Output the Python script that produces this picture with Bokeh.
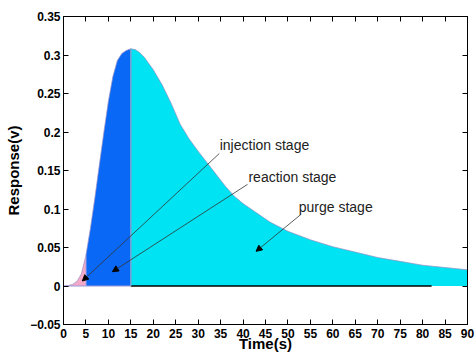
from bokeh.plotting import figure
from bokeh.models import (FixedTicker, LinearAxis, Arrow, NormalHead, Label)
from bokeh.embed import file_html
from bokeh.resources import INLINE

# ---- data ----
time_s = [0, 1, 2, 3, 4, 5, 6, 7, 8, 9, 10, 11, 12, 13, 14, 15,
          16, 17, 18, 20, 22, 24, 26, 28, 30, 32, 34, 36, 38, 40,
          43, 46, 50, 55, 60, 65, 70, 75, 80, 85, 90]
response_v = [0.0, 0.0005, 0.002, 0.006, 0.016, 0.04, 0.075, 0.115, 0.158, 0.2,
              0.24, 0.272, 0.293, 0.302, 0.306, 0.308,
              0.307, 0.303, 0.297, 0.281, 0.261, 0.237, 0.210, 0.191, 0.175,
              0.160, 0.145, 0.130, 0.117, 0.107,
              0.095, 0.083, 0.071, 0.060, 0.051, 0.044, 0.037, 0.032, 0.027,
              0.024, 0.021]
injection_end = 5
reaction_end = 15
baseline_end = 82

x_ticks = list(range(0, 95, 5))
y_ticks = [-0.05, 0, 0.05, 0.1, 0.15, 0.2, 0.25, 0.3, 0.35]
y_tick_labels = ["\u22120.05", "0", "0.05", "0.1", "0.15", "0.2", "0.25", "0.3", "0.35"]

stage_names = ["injection stage", "reaction stage", "purge stage"]
label_x = [34.8, 41.2, 52.4]
label_y = [0.183, 0.141, 0.102]
arrow_x0 = [34.7, 41.0, 52.9]
arrow_y0 = [0.172, 0.132, 0.093]
arrow_x1 = [4.2, 10.9, 42.9]
arrow_y1 = [0.0065, 0.0186, 0.045]

FONT = "Liberation Sans"

p = figure(width=476, height=354, x_range=(0, 90), y_range=(-0.05, 0.35),
           output_backend="svg", toolbar_location=None,
           min_border_left=63, min_border_right=9, min_border_top=16,
           min_border_bottom=29)
p.grid.visible = False
p.outline_line_color = "black"
p.outline_line_width = 1
p.background_fill_color = "white"
p.border_fill_color = "white"

i5 = time_s.index(injection_end)
i15 = time_s.index(reaction_end)

p.varea(x=time_s[:i5 + 1], y1=0, y2=response_v[:i5 + 1], fill_color="#F5A9C9")
p.varea(x=time_s[i5:i15 + 1], y1=0, y2=response_v[i5:i15 + 1], fill_color="#0A68F7")
p.varea(x=time_s[i15:], y1=0, y2=response_v[i15:], fill_color="#00E3F2")

p.line(time_s, response_v, line_color="#9a90c4", line_width=1, line_alpha=0.7)
p.line([0, reaction_end], [0, 0], line_color="#9a9ad6", line_width=1.2)
p.line([reaction_end, baseline_end], [0, 0], line_color="black", line_width=1.3)
p.line([reaction_end, reaction_end], [0, response_v[i15]], line_color="#7d9fd2", line_width=1.5)
p.line([injection_end, injection_end], [0, response_v[i5]], line_color="#b7a6d8", line_width=1)

for k in range(3):
    p.add_layout(Arrow(end=NormalHead(size=6, fill_color="black", line_color="black"),
                       x_start=arrow_x0[k], y_start=arrow_y0[k],
                       x_end=arrow_x1[k], y_end=arrow_y1[k],
                       line_color="#333333", line_width=0.8))
    p.add_layout(Label(x=label_x[k], y=label_y[k], text=stage_names[k],
                       text_font=FONT, text_font_size="14px", text_color="#222222",
                       text_baseline="middle", text_align="left"))

# main axes
xa = p.xaxis[0]
xa.ticker = FixedTicker(ticks=x_ticks)
xa.axis_label = "Time(s)"
ya = p.yaxis[0]
ya.ticker = FixedTicker(ticks=y_ticks)
ya.major_label_overrides = {t: l for t, l in zip(y_ticks, y_tick_labels)}
ya.axis_label = "Response(v)"

for ax in (xa, ya):
    ax.major_tick_in = 5
    ax.major_tick_out = 0
    ax.minor_tick_line_color = None
    ax.axis_line_color = "black"
    ax.major_label_text_font = FONT
    ax.major_label_text_font_style = "bold"
    ax.major_label_text_font_size = "12px"
    ax.major_label_text_color = "black"
    ax.axis_label_text_font = FONT
    ax.axis_label_text_font_style = "bold"
    ax.axis_label_text_font_size = "15px"
    ax.axis_label_text_color = "black"

xa.major_label_standoff = 4
xa.axis_label_standoff = -6
ya.major_label_standoff = 3
ya.axis_label_standoff = 5

# mirrored axes (ticks only, no labels)
top = LinearAxis(ticker=FixedTicker(ticks=x_ticks))
right = LinearAxis(ticker=FixedTicker(ticks=y_ticks))
for ax in (top, right):
    ax.major_tick_in = 5
    ax.major_tick_out = 0
    ax.minor_tick_line_color = None
    ax.major_label_text_color = None
    ax.major_label_text_font_size = "1px"
    ax.major_label_standoff = 0
    ax.axis_line_color = "black"
p.add_layout(top, "above")
p.add_layout(right, "right")

open("out.html", "w").write(file_html(p, INLINE))
